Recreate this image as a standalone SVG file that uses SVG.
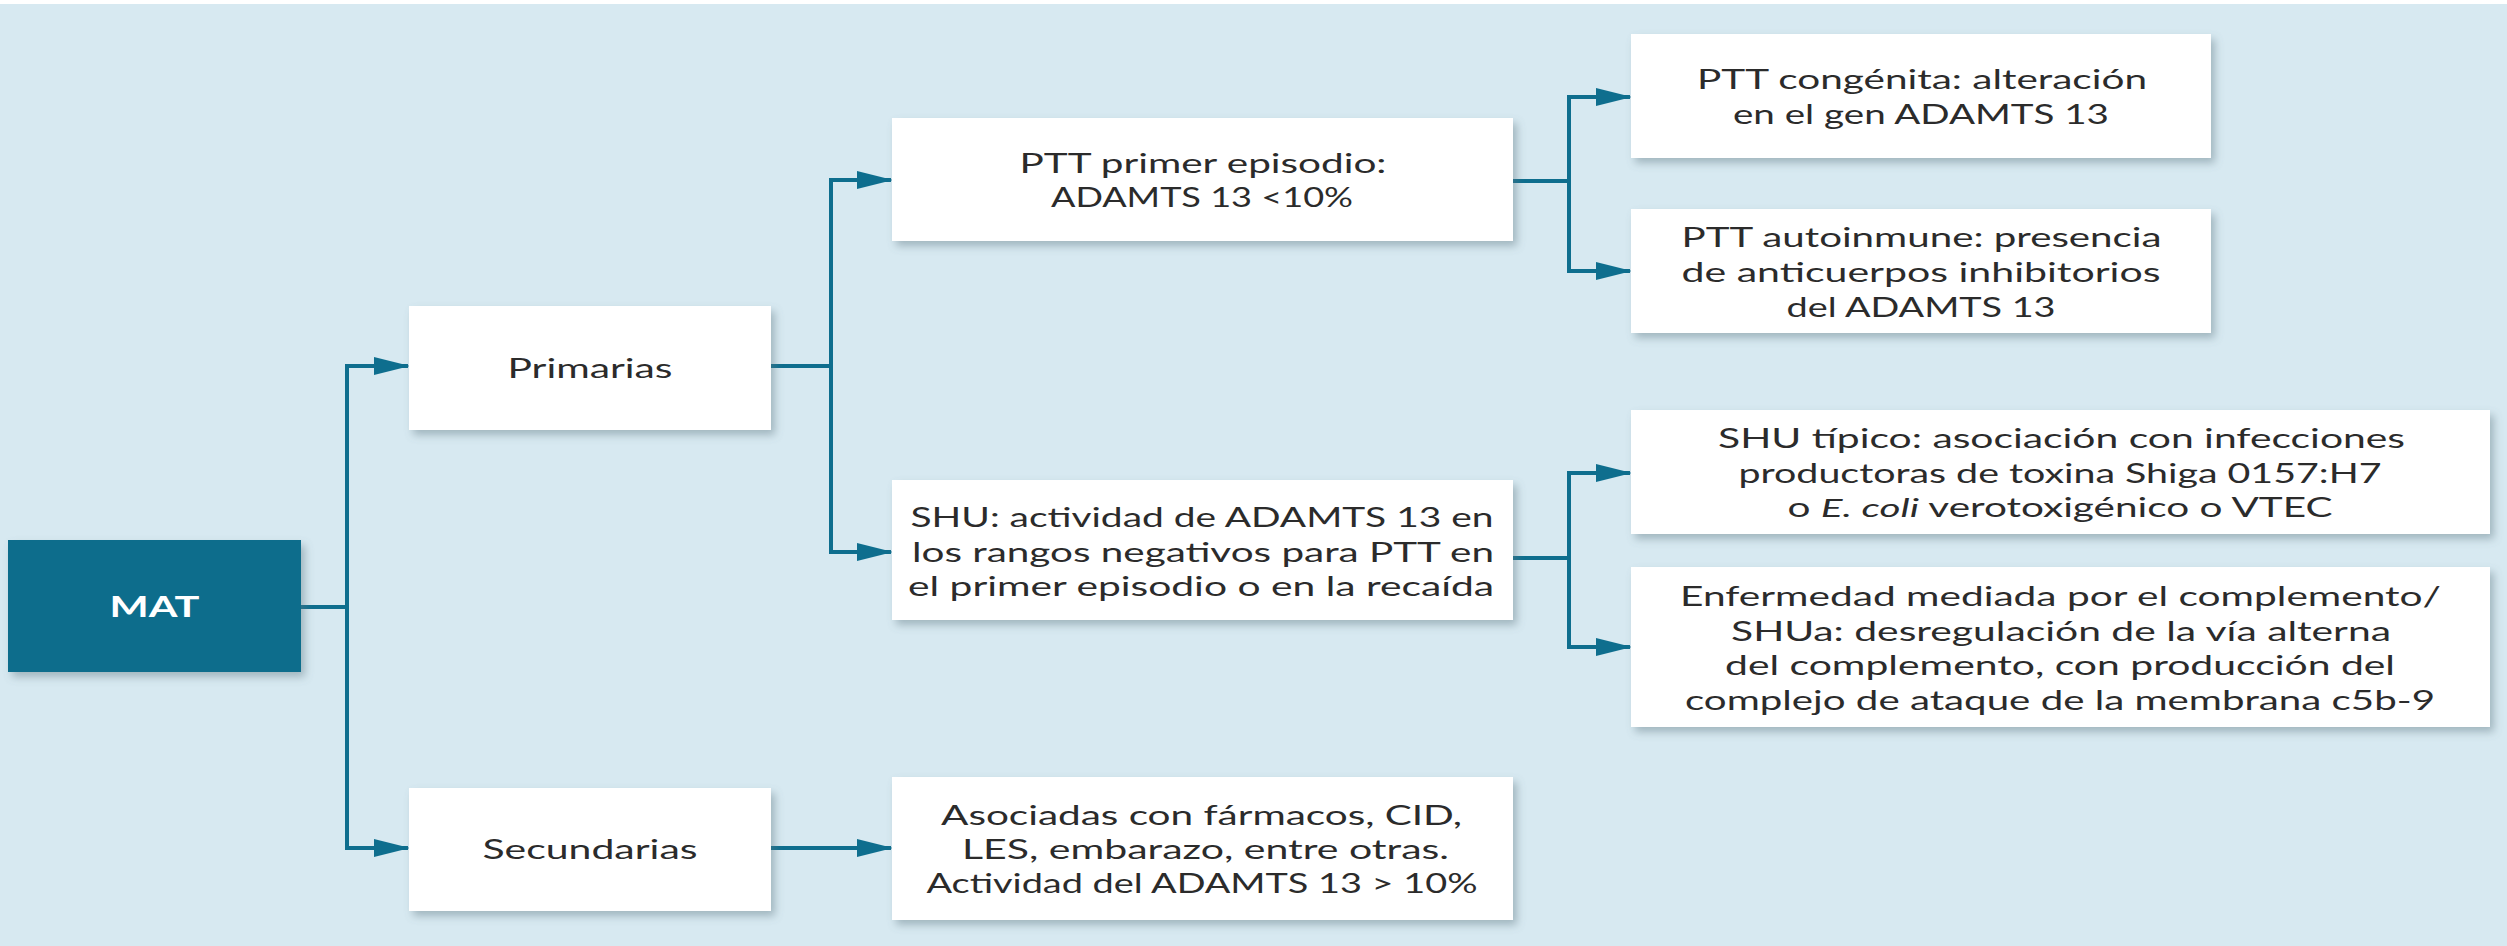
<svg xmlns="http://www.w3.org/2000/svg" width="2507" height="946" viewBox="0 0 2507 946">
<defs>
<style>
.bg{fill:#d7e9f1}
.box{fill:#ffffff;filter:url(#sh)}
.root{fill:#0b6d8c;filter:url(#sh)}
.t{font-family:Lato,"Open Sans","Liberation Sans",sans-serif;font-size:26px;fill:#2b2b2b;text-anchor:middle}
.tw{font-family:Lato,"Open Sans","Liberation Sans",sans-serif;font-size:28px;font-weight:bold;fill:#ffffff;text-anchor:middle}
.c{fill:none;stroke:#0e6e8e;stroke-width:4;marker-end:url(#ah)}
.c0{fill:none;stroke:#0e6e8e;stroke-width:4}
</style>
<filter id="sh" x="-10%" y="-20%" width="125%" height="150%">
<feDropShadow dx="4" dy="5" stdDeviation="4" flood-color="#5f7680" flood-opacity="0.45"/>
</filter>
<marker id="ah" viewBox="0 0 36 18" refX="34" refY="9" markerWidth="36" markerHeight="18" markerUnits="userSpaceOnUse" orient="auto">
<path d="M0,0 L36,9 L0,18 Z" fill="#0e6e8e"/>
</marker>
</defs>
<rect class="bg" x="0" y="0" width="2507" height="946"/>
<rect x="0" y="0" width="2507" height="4" fill="#ffffff"/>

<g id="connectors">
<path class="c0" d="M301,607 H347"/>
<path class="c" d="M347,607 V366 H408"/>
<path class="c" d="M347,607 V848 H408"/>
<path class="c0" d="M771,366 H831"/>
<path class="c" d="M831,366 V180 H891"/>
<path class="c" d="M831,366 V552 H891"/>
<path class="c" d="M771,848 H891"/>
<path class="c0" d="M1513,181 H1569"/>
<path class="c" d="M1569,181 V97 H1630"/>
<path class="c" d="M1569,181 V271 H1630"/>
<path class="c0" d="M1513,558 H1569"/>
<path class="c" d="M1569,558 V473 H1630"/>
<path class="c" d="M1569,558 V647 H1630"/>
</g>

<g id="mat">
<rect class="root" x="8" y="540" width="293" height="132"/>
<text class="tw" x="154.5" y="617" textLength="90" lengthAdjust="spacingAndGlyphs">MAT</text>
</g>

<g id="primarias">
<rect class="box" x="409" y="306" width="362" height="124"/>
<text class="t" x="590" y="378" textLength="165" lengthAdjust="spacingAndGlyphs">Primarias</text>
</g>

<g id="secundarias">
<rect class="box" x="409" y="788" width="362" height="123"/>
<text class="t" x="590" y="859" textLength="215" lengthAdjust="spacingAndGlyphs">Secundarias</text>
</g>

<g id="ptt-primer">
<rect class="box" x="892" y="118" width="621" height="123"/>
<text class="t"><tspan x="1203" y="173" textLength="367" lengthAdjust="spacingAndGlyphs">PTT primer episodio:</tspan><tspan x="1202" y="207" textLength="302" lengthAdjust="spacingAndGlyphs">ADAMTS 13 &lt;10%</tspan></text>
</g>

<g id="shu">
<rect class="box" x="892" y="480" width="621" height="140"/>
<text class="t"><tspan x="1202" y="527" textLength="583" lengthAdjust="spacingAndGlyphs">SHU: actividad de ADAMTS 13 en</tspan><tspan x="1203" y="562" textLength="582" lengthAdjust="spacingAndGlyphs">los rangos negativos para PTT en</tspan><tspan x="1201" y="596" textLength="586" lengthAdjust="spacingAndGlyphs">el primer episodio o en la recaída</tspan></text>
</g>

<g id="asociadas">
<rect class="box" x="892" y="777" width="621" height="143"/>
<text class="t"><tspan x="1201.5" y="825" textLength="521" lengthAdjust="spacingAndGlyphs">Asociadas con fármacos, CID,</tspan><tspan x="1205.5" y="859" textLength="487" lengthAdjust="spacingAndGlyphs">LES, embarazo, entre otras.</tspan><tspan x="1202" y="893" textLength="551" lengthAdjust="spacingAndGlyphs">Actividad del ADAMTS 13 &gt; 10%</tspan></text>
</g>

<g id="ptt-congenita">
<rect class="box" x="1631" y="34" width="580" height="124"/>
<text class="t"><tspan x="1922" y="89" textLength="450" lengthAdjust="spacingAndGlyphs">PTT congénita: alteración</tspan><tspan x="1921" y="124" textLength="376" lengthAdjust="spacingAndGlyphs">en el gen ADAMTS 13</tspan></text>
</g>

<g id="ptt-autoinmune">
<rect class="box" x="1631" y="209" width="580" height="124"/>
<text class="t"><tspan x="1921.5" y="247" textLength="480" lengthAdjust="spacingAndGlyphs">PTT autoinmune: presencia</tspan><tspan x="1921" y="282" textLength="479" lengthAdjust="spacingAndGlyphs">de anticuerpos inhibitorios</tspan><tspan x="1921" y="317" textLength="269" lengthAdjust="spacingAndGlyphs">del ADAMTS 13</tspan></text>
</g>

<g id="shu-tipico">
<rect class="box" x="1631" y="410" width="859" height="124"/>
<text class="t"><tspan x="2061.5" y="448" textLength="687" lengthAdjust="spacingAndGlyphs">SHU típico: asociación con infecciones</tspan><tspan x="2060" y="483" textLength="643" lengthAdjust="spacingAndGlyphs">productoras de toxina Shiga 0157:H7</tspan><tspan x="2060" y="517" textLength="545" lengthAdjust="spacingAndGlyphs">o <tspan font-style="italic">E. coli</tspan> verotoxigénico o VTEC</tspan></text>
</g>

<g id="enfermedad">
<rect class="box" x="1631" y="567" width="859" height="160"/>
<text class="t"><tspan x="2060.5" y="606" textLength="761" lengthAdjust="spacingAndGlyphs">Enfermedad mediada por el complemento/</tspan><tspan x="2061" y="641" textLength="660" lengthAdjust="spacingAndGlyphs">SHUa: desregulación de la vía alterna</tspan><tspan x="2060" y="675" textLength="670" lengthAdjust="spacingAndGlyphs">del complemento, con producción del</tspan><tspan x="2060" y="710" textLength="750" lengthAdjust="spacingAndGlyphs">complejo de ataque de la membrana c5b-9</tspan></text>
</g>
</svg>
